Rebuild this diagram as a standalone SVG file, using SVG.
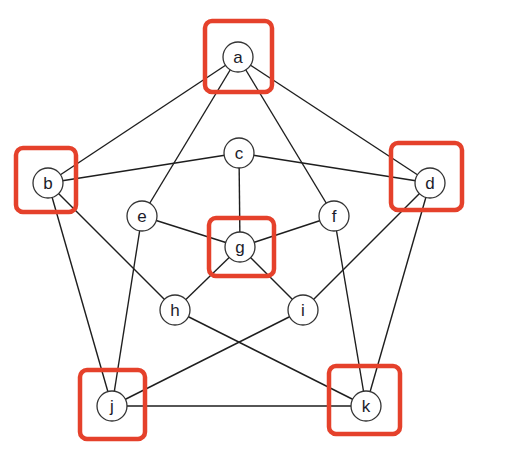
<svg xmlns="http://www.w3.org/2000/svg" width="506" height="462" viewBox="0 0 506 462">
<style>
.edge{stroke:#1e1e1e;stroke-width:1.4;fill:none}
.node circle{fill:#fff;stroke:#333;stroke-width:1.3}
.node text{font-family:"Liberation Sans",Arial,sans-serif;font-size:17px;fill:#1c1c2a;text-anchor:middle;dominant-baseline:central}
.hl{fill:none;stroke:#e5412b;stroke-width:4.5}
</style>
<rect width="506" height="462" fill="#fff"/>
<g id="connectors">
<line class="edge" x1="238" y1="57" x2="48" y2="183"/>
<line class="edge" x1="238" y1="57" x2="430" y2="183"/>
<line class="edge" x1="238" y1="57" x2="142" y2="216"/>
<line class="edge" x1="238" y1="57" x2="334" y2="216"/>
<line class="edge" x1="48" y1="183" x2="239" y2="153"/>
<line class="edge" x1="48" y1="183" x2="112" y2="406"/>
<line class="edge" x1="48" y1="183" x2="175" y2="310"/>
<line class="edge" x1="239" y1="153" x2="430" y2="183"/>
<line class="edge" x1="239" y1="153" x2="240" y2="247"/>
<line class="edge" x1="430" y1="183" x2="303" y2="310"/>
<line class="edge" x1="430" y1="183" x2="366" y2="406"/>
<line class="edge" x1="142" y1="216" x2="240" y2="247"/>
<line class="edge" x1="142" y1="216" x2="112" y2="406"/>
<line class="edge" x1="334" y1="216" x2="240" y2="247"/>
<line class="edge" x1="334" y1="216" x2="366" y2="406"/>
<line class="edge" x1="240" y1="247" x2="175" y2="310"/>
<line class="edge" x1="240" y1="247" x2="303" y2="310"/>
<line class="edge" x1="175" y1="310" x2="366" y2="406"/>
<line class="edge" x1="303" y1="310" x2="112" y2="406"/>
<line class="edge" x1="112" y1="406" x2="366" y2="406"/>
</g>
<g id="node-a" class="node"><circle cx="238" cy="57" r="15"/><text x="238" y="57">a</text></g>
<g id="node-b" class="node"><circle cx="48" cy="183" r="15"/><text x="48" y="183">b</text></g>
<g id="node-c" class="node"><circle cx="239" cy="153" r="15"/><text x="239" y="153">c</text></g>
<g id="node-d" class="node"><circle cx="430" cy="183" r="15"/><text x="430" y="183">d</text></g>
<g id="node-e" class="node"><circle cx="142" cy="216" r="15"/><text x="142" y="216">e</text></g>
<g id="node-f" class="node"><circle cx="334" cy="216" r="15"/><text x="334" y="216">f</text></g>
<g id="node-g" class="node"><circle cx="240" cy="247" r="15"/><text x="240" y="247">g</text></g>
<g id="node-h" class="node"><circle cx="175" cy="310" r="15"/><text x="175" y="310">h</text></g>
<g id="node-i" class="node"><circle cx="303" cy="310" r="15"/><text x="303" y="310">i</text></g>
<g id="node-j" class="node"><circle cx="112" cy="406" r="15"/><text x="112" y="406">j</text></g>
<g id="node-k" class="node"><circle cx="366" cy="406" r="15"/><text x="366" y="406">k</text></g>
<g id="highlights">
<rect class="hl" x="205" y="21" width="67" height="71" rx="7"/>
<rect class="hl" x="16" y="148" width="60" height="64" rx="7"/>
<rect class="hl" x="391" y="143" width="71" height="67" rx="7"/>
<rect class="hl" x="209" y="218" width="65" height="58" rx="7"/>
<rect class="hl" x="80" y="370" width="65" height="69" rx="7"/>
<rect class="hl" x="329" y="366" width="71" height="68" rx="7"/>
</g>
</svg>
